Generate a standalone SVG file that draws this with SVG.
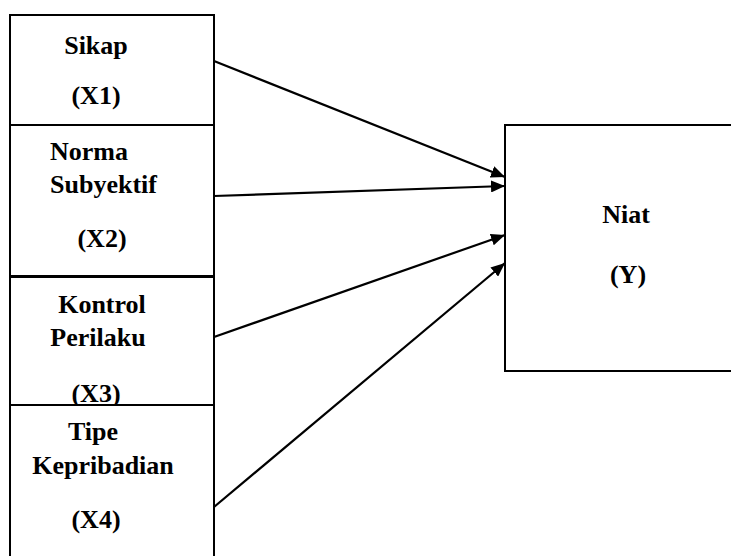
<svg xmlns="http://www.w3.org/2000/svg" width="731" height="556" viewBox="0 0 731 556">
<style>
.box{fill:#fff;stroke:#000;stroke-width:2}
.lbl{font-family:"Liberation Serif","Times New Roman",serif;font-weight:bold;font-size:26px;fill:#000}
.mid{text-anchor:middle}
.conn{stroke:#000;stroke-width:2.2;fill:none}
</style>
<defs>
<marker id="ah" markerUnits="userSpaceOnUse" markerWidth="14" markerHeight="12" refX="14" refY="6" orient="auto">
<path d="M0,0 L14,6 L0,12 Z" fill="#000"/>
</marker>
</defs>
<rect width="731" height="556" fill="#fff"/>
<g id="x1">
<rect class="box" x="10" y="15" width="204" height="110"/>
<text class="lbl mid" x="96" y="54">Sikap</text>
<text class="lbl mid" x="96" y="104">(X1)</text>
</g>
<g id="x2">
<rect class="box" x="10" y="125" width="204" height="151"/>
<text class="lbl" x="50" y="160">Norma</text>
<text class="lbl" x="50" y="193">Subyektif</text>
<text class="lbl mid" x="102" y="247">(X2)</text>
</g>
<g id="x3">
<rect class="box" x="10" y="277" width="204" height="128"/>
<text class="lbl mid" x="102" y="313">Kontrol</text>
<text class="lbl mid" x="98" y="346">Perilaku</text>
<text class="lbl mid" x="96" y="402">(X3)</text>
</g>
<g id="x4">
<rect class="box" x="10" y="405" width="204" height="160"/>
<text class="lbl mid" x="93" y="440">Tipe</text>
<text class="lbl mid" x="103" y="474">Kepribadian</text>
<text class="lbl mid" x="96" y="528">(X4)</text>
</g>
<g id="y">
<rect class="box" x="505" y="125" width="240" height="246"/>
<text class="lbl mid" x="626" y="223">Niat</text>
<text class="lbl mid" x="628" y="283">(Y)</text>
</g>
<g id="connectors">
<line class="conn" x1="214" y1="61" x2="505" y2="177" marker-end="url(#ah)"/>
<line class="conn" x1="214" y1="196" x2="505" y2="186" marker-end="url(#ah)"/>
<line class="conn" x1="214" y1="337" x2="505" y2="235" marker-end="url(#ah)"/>
<line class="conn" x1="214" y1="507" x2="505" y2="263" marker-end="url(#ah)"/>
</g>
</svg>
